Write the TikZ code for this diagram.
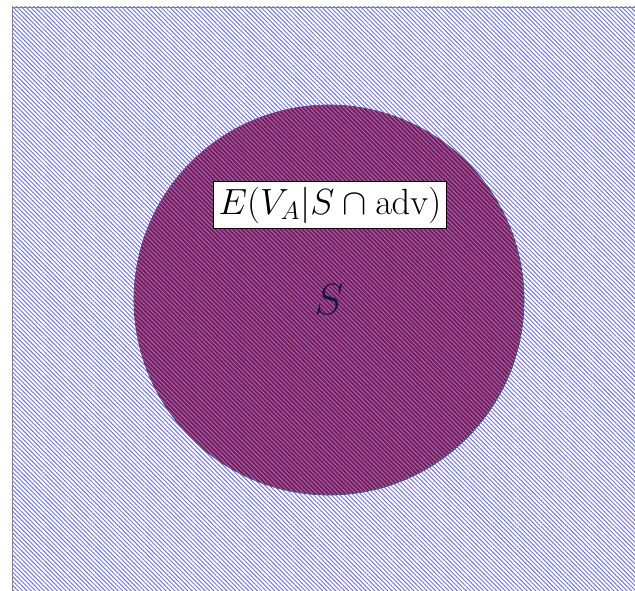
\documentclass[tikz,border=0pt]{standalone}
\usepackage{amsmath,amssymb}
\usepackage{xcolor}
\usetikzlibrary{patterns.meta}
\definecolor{hatch}{RGB}{115,115,230}
\definecolor{maroon}{RGB}{145,22,60}
\definecolor{frame}{RGB}{130,130,130}
\definecolor{ink}{RGB}{25,20,70}
\tikzset{
  hatched/.style = {pattern={Lines[angle=-45,distance=1.75pt,line width=0.55pt]},
                    pattern color=hatch},
  disc/.style    = {circle, draw=ink!80, fill=maroon, minimum size=7.8cm,
                    inner sep=0pt},
  tag/.style     = {draw=black, line width=0.9pt, fill=white, inner sep=3pt,
                    font=\fontsize{19.5}{23}\selectfont},
}

\begin{document}
\begin{tikzpicture}
\useasboundingbox (0,0) rectangle (12.7,11.8);
% universe
\draw[frame, hatched] (0.24,11.66) rectangle (12.9,-0.2);
% the set S
\node[disc] (s) at (6.58,5.8) {};
\fill[hatched] (s.center) circle (3.9cm);
\node[text=ink, font=\fontsize{24}{28}\selectfont] (slabel) at (s.center) {$S$};
\node[tag] (cond) at (6.6,7.7) {$E(V_A|S\cap\mathrm{adv})$};
\end{tikzpicture}
\end{document}
